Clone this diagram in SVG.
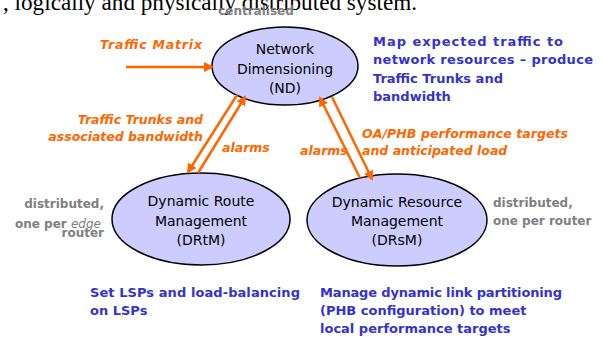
<svg xmlns="http://www.w3.org/2000/svg" width="603" height="337" viewBox="0 0 603 337">
<defs>
<marker id="ah" markerWidth="10" markerHeight="10" refX="8" refY="5" orient="auto" markerUnits="userSpaceOnUse" viewBox="0 0 10 10">
<path d="M0,0 L10,5 L0,10 z" fill="#FF6600"/>
</marker>
<style>
.node ellipse{fill:#CCCCFF;stroke:#000;stroke-width:1.5}
.nt{font-family:"DejaVu Sans","Liberation Sans",sans-serif;font-size:14px;fill:#000;text-anchor:middle}
.or{font-family:"DejaVu Sans","Liberation Sans",sans-serif;font-size:12.5px;font-weight:bold;font-style:italic;fill:#FF6600}
.bl{font-family:"DejaVu Sans","Liberation Sans",sans-serif;font-size:13px;font-weight:bold;fill:#3333CC}
.gr{font-family:"DejaVu Sans","Liberation Sans",sans-serif;font-size:12px;font-weight:bold;fill:#808080}
.conn line{stroke:#FF6600;stroke-width:2.5;marker-end:url(#ah)}
</style>
</defs>
<rect width="603" height="337" fill="#fff"/>
<text x="3" y="10" font-family="Liberation Serif,serif" font-size="24" fill="#000" textLength="414" lengthAdjust="spacingAndGlyphs">, logically and physically distributed system.</text>
<text x="256" y="15" class="gr" font-size="10" text-anchor="middle">centralised</text>

<g id="nd" class="node">
<ellipse cx="285" cy="66" rx="73" ry="39"/>
<text class="nt" x="285" y="54">Network</text>
<text class="nt" x="285" y="74">Dimensioning</text>
<text class="nt" x="285" y="93">(ND)</text>
</g>
<g id="drtm" class="node">
<ellipse cx="201" cy="219" rx="89" ry="46"/>
<text class="nt" x="201" y="206">Dynamic Route</text>
<text class="nt" x="201" y="226">Management</text>
<text class="nt" x="201" y="245">(DRtM)</text>
</g>
<g id="drsm" class="node">
<ellipse cx="397" cy="220" rx="90" ry="46"/>
<text class="nt" x="397" y="207">Dynamic Resource</text>
<text class="nt" x="397" y="226">Management</text>
<text class="nt" x="397" y="245">(DRsM)</text>
</g>

<g id="connectors" class="conn">
<line x1="126" y1="67" x2="212" y2="67"/>
<line x1="237" y1="95" x2="188" y2="172"/>
<line x1="198" y1="173" x2="245" y2="97"/>
<line x1="360" y1="178" x2="320" y2="98"/>
<line x1="332" y1="97" x2="372" y2="179"/>
</g>

<g id="labels">
<text class="or" x="100" y="49" textLength="102">Traffic Matrix</text>
<text class="or" x="203" y="124" text-anchor="end">Traffic Trunks and</text>
<text class="or" x="203" y="141" text-anchor="end">associated bandwidth</text>
<text class="or" x="222" y="152">alarms</text>
<text class="or" x="300" y="155">alarms</text>
<text class="or" x="362" y="138" textLength="206">OA/PHB performance targets</text>
<text class="or" x="362" y="155">and anticipated load</text>

<text class="bl" x="373" y="46" textLength="190">Map expected traffic to</text>
<text class="bl" x="373" y="64" textLength="220">network resources – produce</text>
<text class="bl" x="373" y="83">Traffic Trunks and</text>
<text class="bl" x="373" y="101">bandwidth</text>

<text class="gr" x="104" y="208" text-anchor="end">distributed,</text>
<text class="gr" x="15" y="228">one per <tspan font-style="italic" font-weight="normal">edge</tspan></text>
<text class="gr" x="104" y="237" text-anchor="end">router</text>
<text class="gr" x="493" y="207">distributed,</text>
<text class="gr" x="493" y="225">one per router</text>

<text class="bl" x="90" y="297" textLength="210">Set LSPs and load-balancing</text>
<text class="bl" x="90" y="315">on LSPs</text>
<text class="bl" x="320" y="297" textLength="242">Manage dynamic link partitioning</text>
<text class="bl" x="320" y="315">(PHB configuration) to meet</text>
<text class="bl" x="320" y="333">local performance targets</text>
</g>
</svg>
